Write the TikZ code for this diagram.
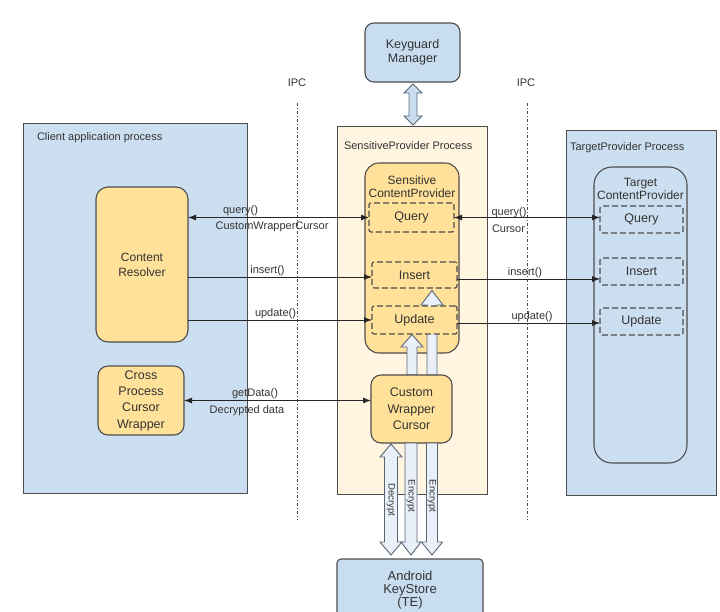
\documentclass[tikz,border=0pt]{standalone}
\usepackage{fontspec}
\setmainfont{Liberation Sans}
\usetikzlibrary{arrows.meta,calc}
\definecolor{procblue}{HTML}{CCDFF1}
\definecolor{spcream}{HTML}{FFF5E1}
\definecolor{yel}{HTML}{FFE199}
\definecolor{kblue}{HTML}{C9DDF1}
\definecolor{bord}{HTML}{4D4D4D}
\definecolor{txt}{HTML}{333333}
\definecolor{arrfill}{HTML}{E9F0F9}
\definecolor{arrbord}{HTML}{5A6573}
\newcommand{\blksingle}[7]{% x, tail y, base y, tip y, shaft half, head half, style
  \draw[#7] ({#1-#5},#2) -- ({#1-#5},#3) -- ({#1-#6},#3) -- (#1,#4) -- ({#1+#6},#3) -- ({#1+#5},#3) -- ({#1+#5},#2) -- cycle;}
\newcommand{\blkdouble}[8]{% x, tip1, base1, base2, tip2, shaft half, head half, style
  \draw[#8] (#1,#2) -- ({#1+#7},#3) -- ({#1+#6},#3) -- ({#1+#6},#4) -- ({#1+#7},#4) -- (#1,#5) -- ({#1-#7},#4) -- ({#1-#6},#4) -- ({#1-#6},#3) -- ({#1-#7},#3) -- cycle;}
\begin{document}
\begin{tikzpicture}[x=1pt,y=-1pt,
  every node/.style={inner sep=0pt, outer sep=0pt, text=txt},
  proc/.style={draw=bord, line width=1pt, fill=procblue},
  ybox/.style={draw=bord, line width=1.1pt, fill=yel, rounded corners=12pt, align=center, font=\fontsize{12}{15}\selectfont},
  dbox/.style={draw=bord, line width=1.1pt, fill=yel, dash pattern=on 6pt off 3pt, rounded corners=2pt, font=\fontsize{12.5}{15}\selectfont},
  bbox/.style={draw=bord, line width=1.1pt, fill=kblue, rounded corners=9pt, align=center, font=\fontsize{12.5}{13.5}\selectfont},
  ttl/.style={anchor=west, font=\fontsize{11}{13}\selectfont},
  lbl/.style={font=\fontsize{11}{13}\selectfont},
  conn/.style={draw=black!85, line width=0.9pt},
  tip/.style={-{Latex[length=8pt,width=6pt]}},
  dtip/.style={{Latex[length=8pt,width=6pt]}-{Latex[length=8pt,width=6pt]}},
  ipc/.style={draw=black!70, line width=1pt, dash pattern=on 3pt off 2pt on 1pt off 2pt},
  blk/.style={draw=arrbord, line width=0.9pt, fill=arrfill, line join=miter},
  kblk/.style={draw=arrbord, line width=0.9pt, fill=kblue},
  vtxt/.style={rotate=-90, font=\fontsize{9.5}{10}\selectfont}
]
\useasboundingbox (0,0) rectangle (720,611);

% process boxes
\node[proc, minimum width=224pt, minimum height=370pt] (client) at (135,308) {};
\node[ttl] (clientt) at (37,138) {Client application process};
\node[proc, fill=spcream, minimum width=150pt, minimum height=368pt] (sp) at (412,310) {};
\node[ttl] (spt) at (344,146) {SensitiveProvider Process};
\node[proc, minimum width=150pt, minimum height=365pt] (tp) at (641,312.5) {};
\node[ttl] (tpt) at (570,148) {TargetProvider Process};

% IPC lines
\node[lbl] (ipc1) at (297,83) {IPC};
\node[lbl] (ipc2) at (526,83) {IPC};
\coordinate (ipc1a) at (297,103); \coordinate (ipc1b) at (297,520);
\coordinate (ipc2a) at (527,103); \coordinate (ipc2b) at (527,520);
\draw[ipc] (ipc1a) -- (ipc1b);
\draw[ipc] (ipc2a) -- (ipc2b);

% client side
\node[ybox, minimum width=92pt, minimum height=155pt] (cr) at (142,264.5) {Content\\Resolver};
\node[ybox, rounded corners=10pt, minimum width=86pt, minimum height=69pt, font=\fontsize{12.5}{16.3}\selectfont] (cpcw) at (141,400.5) {Cross\\Process\\Cursor\\Wrapper};

% keyguard & keystore
\node[bbox, minimum width=95pt, minimum height=59pt] (kg) at (412.5,52.5) {Keyguard\\Manager};
\node[bbox, rounded corners=4pt, minimum width=146pt, minimum height=62pt, font=\fontsize{13}{13.2}\selectfont] (ks) at (410,590) {Android\\KeyStore\\(TE)};
\blkdouble{413}{84}{93}{116}{125}{4}{9}{kblk}

% sensitive provider
\node[ybox, rounded corners=14pt, minimum width=94pt, minimum height=190pt] (scp) at (412,258) {};
\node[align=center, font=\fontsize{12}{13}\selectfont] (scpt) at (412,186.5) {Sensitive\\ContentProvider};
\node[dbox, minimum width=85pt, minimum height=29pt] (sq) at (411.5,217.5) {Query};
\node[dbox, minimum width=85pt, minimum height=26pt] (si) at (414.5,275) {Insert};
% up arrows from custom wrapper cursor
\blksingle{432}{375}{305}{290.5}{5}{11}{blk}
\node[dbox, minimum width=85pt, minimum height=28pt] (su) at (414.5,320) {Update};
\blksingle{412}{375}{347}{334.5}{5}{11}{blk}
\node[ybox, rounded corners=10pt, minimum width=81pt, minimum height=68pt, font=\fontsize{12.5}{16.5}\selectfont] (cwc) at (411.5,409) {Custom\\Wrapper\\Cursor};

% bottom arrows
\blkdouble{391}{444}{457}{542}{555}{6.5}{11}{blk}
\blksingle{411}{443}{542}{555}{6}{10}{blk}
\blksingle{432}{443}{542}{555}{5.5}{10.5}{blk}
\node[vtxt] (dec) at (391,500) {Decrypt};
\node[vtxt] (enc1) at (411,496) {Encrypt};
\node[vtxt] (enc2) at (432,496) {Encrypt};

% target provider
\node[ybox, fill=procblue, rounded corners=18pt, minimum width=93pt, minimum height=296pt] (tcp) at (640.5,315) {};
\node[align=center, font=\fontsize{12}{13}\selectfont] (tcpt) at (640.5,188.5) {Target\\ContentProvider};
\node[dbox, fill=procblue, minimum width=83pt, minimum height=27pt] (tq) at (641.5,219.5) {Query};
\node[dbox, fill=procblue, minimum width=83pt, minimum height=27pt] (ti) at (641.5,271.5) {Insert};
\node[dbox, fill=procblue, minimum width=83pt, minimum height=27pt] (tu) at (641.5,321.5) {Update};

% connectors
\draw[conn, dtip] (cr.east |- sq.west) -- (sq.west);
\draw[conn, dtip] (sq.east) -- (tq.west |- sq.east);
\coordinate (ins) at ([yshift=-2pt]si.west);
\draw[conn, tip] (cr.east |- ins) -- (ins);
\coordinate (insr) at ([yshift=-4pt]si.east);
\draw[conn, tip] (insr) -- (ti.west |- insr);
\draw[conn, tip] (cr.east |- su.west) -- (su.west);
\coordinate (updr) at ([yshift=-3pt]su.east);
\draw[conn, tip] (updr) -- (tu.west |- updr);
\draw[conn, dtip] (cpcw.east) -- (cwc.west |- cpcw.east);

% connector labels
\node[lbl] (l1) at (240.5,211) {query()};
\node[lbl] (l2) at (272,227) {CustomWrapperCursor};
\node[lbl] (l3) at (267.5,271) {insert()};
\node[lbl] (l4) at (275.5,314) {update()};
\node[lbl] (l5) at (255,394) {getData()};
\node[lbl] (l6) at (247,411) {Decrypted data};
\node[lbl] (l7) at (509,213) {query()};
\node[lbl] (l8) at (508.5,229) {Cursor};
\node[lbl] (l9) at (525,273) {insert()};
\node[lbl] (l10) at (532,317) {update()};
\end{tikzpicture}
\end{document}
